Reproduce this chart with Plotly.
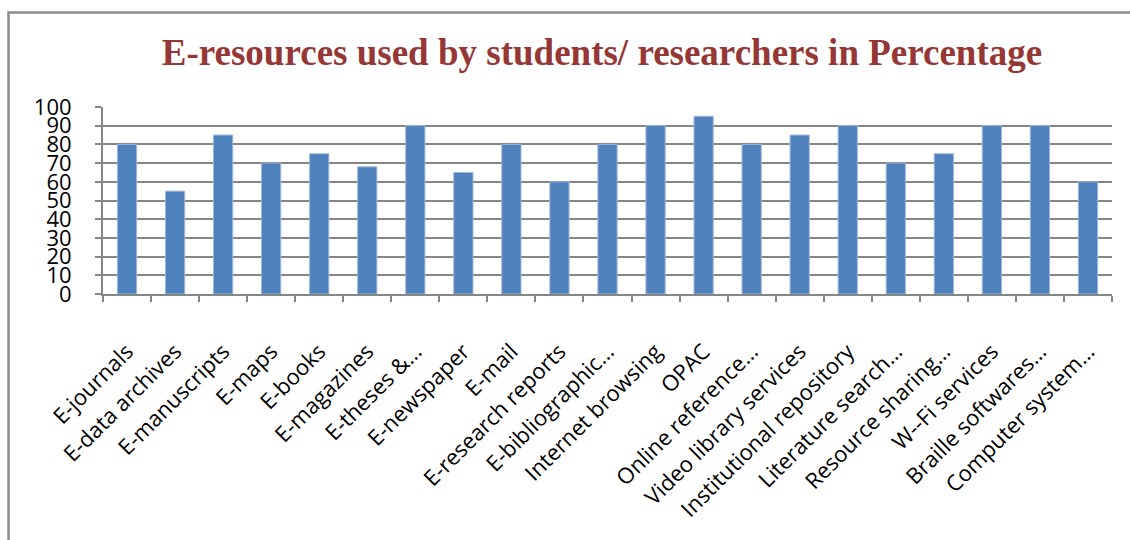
import plotly.graph_objects as go

categories = [
    "E-journals", "E-data archives", "E-manuscripts", "E-maps", "E-books",
    "E-magazines", "E-theses &…", "E-newspaper", "E-mail", "E-research reports",
    "E-bibliographic…", "Internet browsing", "OPAC", "Online reference…",
    "Video library services", "Institutional repository", "Literature search…",
    "Resource sharing…", "W--Fi services", "Braille softwares…", "Computer system…",
]
values = [80, 55, 85, 70, 75, 68, 90, 65, 80, 60, 80, 90, 95, 80, 85, 90, 70, 75, 90, 90, 60]
y_ticks = list(range(0, 101, 10))

title_text = "E-resources used by students/ researchers in Percentage"

W, H = 1130, 540
L, R, T, B = 103, 18, 107, 246
pw, ph = W - L - R, H - T - B

def px_x(x):
    return (x - L) / pw

def px_y(y):
    return (H - B - y) / ph

fig = go.Figure(
    go.Bar(
        x=categories,
        y=values,
        marker=dict(color="#4F81BD", line=dict(color="#9DB6D8", width=1)),
    )
)

fig.update_layout(
    width=W, height=H,
    margin=dict(l=L, r=R, t=T, b=B, autoexpand=False),
    plot_bgcolor="white", paper_bgcolor="white",
    bargap=0.6,
    showlegend=False,
    title=dict(
        text="<b>" + title_text + "</b>",
        x=602 / W, xanchor="center",
        y=1 - 52 / H, yanchor="middle",
        font=dict(family="Liberation Serif", size=37, color="#953735"),
    ),
    shapes=[
        dict(type="rect", xref="paper", yref="paper",
             x0=px_x(8.5), x1=px_x(1140), y0=px_y(12.5), y1=px_y(560),
             line=dict(color="#8C8C8C", width=2.5), fillcolor="rgba(0,0,0,0)",
             layer="below"),
    ],
)

fig.update_xaxes(
    automargin=False,
    tickangle=-45,
    tickfont=dict(family="Open Sans", size=22, color="black"),
    showline=True, linecolor="#868686", linewidth=2,
    ticks="outside", tickson="boundaries", ticklen=6, tickcolor="#868686", tickwidth=2,
    ticklabelstandoff=34,
    showgrid=False,
)
fig.update_yaxes(
    automargin=False,
    range=[0, 100], tickvals=y_ticks,
    tickfont=dict(family="Open Sans", size=22, color="black"),
    showline=True, linecolor="#868686", linewidth=2,
    ticks="outside", ticklen=6, tickcolor="#868686", tickwidth=2,
    ticklabelstandoff=19,
    showgrid=True, gridcolor="#868686", gridwidth=2,
    zeroline=False,
)

fig.write_html(
    "out.html",
    config={"displayModeBar": False},
    post_script="document.body.style.margin='0';document.body.style.overflow='hidden';",
)
